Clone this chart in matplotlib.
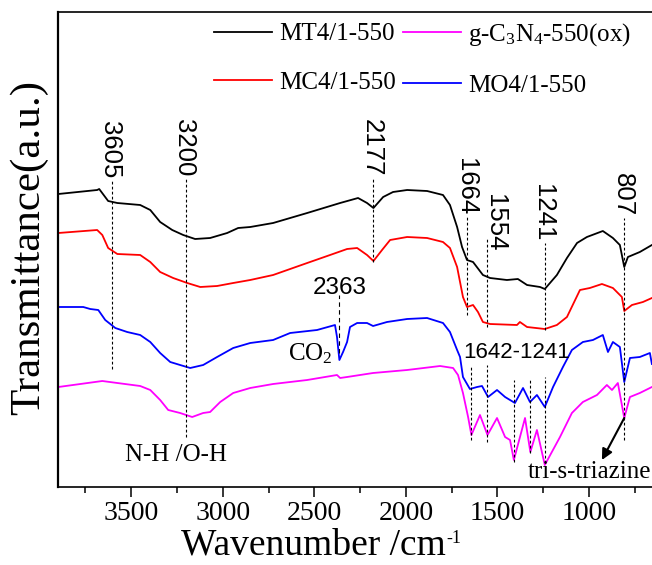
import matplotlib.pyplot as plt
from matplotlib.ticker import MultipleLocator

plt.rcParams['mathtext.fontset'] = 'custom'
plt.rcParams['mathtext.rm'] = 'Liberation Serif'
plt.rcParams['mathtext.it'] = 'Liberation Serif:italic'

SERIF = 'Liberation Serif'
SANS = 'Liberation Sans'

# FTIR spectra, wavenumber (cm-1) vs transmittance (a.u., stacked offsets)
mt_wn = [3898, 3686, 3675, 3626, 3576, 3451, 3396, 3342, 3276, 3216, 3151, 3069,
         2976, 2916, 2850, 2725, 2539, 2359, 2261, 2212, 2177, 2124, 2070, 1993,
         1884, 1797, 1759, 1720, 1693, 1666, 1633, 1579, 1540, 1448, 1388, 1338,
         1267, 1241, 1175, 1120, 1065, 1011, 924, 869, 831, 807, 787, 722, 656]
mt_t = [293, 297, 298, 286, 284, 282, 277, 265, 257, 252, 248, 249,
        254, 259, 260, 264, 274, 284, 289, 284, 279, 290, 295, 297,
        296, 292, 282, 260, 240, 227, 225, 212, 209, 207, 208, 202,
        200, 198, 212, 229, 244, 250, 256, 249, 242, 220, 230, 235, 242]

mc_wn = [3898, 3686, 3658, 3626, 3576, 3451, 3396, 3342, 3271, 3194, 3123, 3031,
         2943, 2850, 2725, 2539, 2414, 2321, 2266, 2212, 2177, 2130, 2086, 1993,
         1884, 1797, 1759, 1720, 1688, 1666, 1633, 1606, 1579, 1540, 1393, 1377,
         1338, 1241, 1175, 1120, 1049, 995, 929, 869, 820, 807, 765, 705, 656]
mc_t = [254, 257, 252, 239, 233, 232, 225, 215, 209, 204, 200, 201,
        204, 207, 212, 224, 232, 238, 239, 232, 226, 237, 247, 250,
        249, 245, 239, 220, 190, 180, 182, 175, 165, 163, 162, 165,
        160, 158, 162, 170, 197, 199, 203, 199, 190, 176, 182, 185, 189]

mo_wn = [3898, 3762, 3724, 3680, 3642, 3587, 3522, 3451, 3396, 3342, 3287, 3233,
         3178, 3107, 3031, 2943, 2850, 2725, 2632, 2485, 2387, 2376, 2363, 2343,
         2321, 2305, 2266, 2212, 2179, 2103, 1993, 1884, 1797, 1759, 1720, 1704,
         1688, 1650, 1611, 1584, 1551, 1502, 1458, 1404, 1360, 1322, 1284, 1241,
         1196, 1142, 1093, 1033, 978, 924, 896, 869, 831, 807, 776, 722, 667, 656]
mo_t = [180, 180, 178, 177, 167, 159, 155, 152, 145, 134, 125, 122,
        119, 122, 130, 139, 144, 147, 154, 157, 162, 150, 127, 135,
        145, 160, 164, 164, 161, 165, 168, 169, 164, 155, 137, 130,
        110, 98, 100, 101, 90, 97, 90, 84, 99, 85, 92, 80,
        100, 120, 137, 145, 147, 152, 135, 145, 140, 105, 129, 130, 134, 123]

gcn_wn = [3898, 3778, 3658, 3576, 3451, 3396, 3342, 3298, 3233, 3167, 3107, 3069,
          3014, 2943, 2850, 2725, 2539, 2376, 2359, 2321, 2179, 1993, 1813, 1742,
          1715, 1688, 1660, 1642, 1595, 1554, 1502, 1458, 1431, 1410, 1349, 1320,
          1284, 1241, 1158, 1093, 1033, 956, 902, 874, 842, 807, 776, 722, 656]
gcn_t = [100, 103, 106, 104, 101, 97, 87, 77, 74, 70, 74, 75,
         85, 94, 99, 103, 107, 112, 109, 110, 114, 117, 121, 119,
         112, 94, 70, 52, 72, 52, 69, 50, 47, 27, 69, 35,
         57, 22, 50, 74, 85, 92, 102, 97, 104, 69, 90, 94, 100]

series = [
    ('MT4/1-550', mt_wn, mt_t, 'black'),
    ('MC4/1-550', mc_wn, mc_t, 'red'),
    (r'g-C$_{3}$N$_{4}$-550(ox)', gcn_wn, gcn_t, 'magenta'),
    ('MO4/1-550', mo_wn, mo_t, 'blue'),
]

# labelled peaks: wavenumber, dashed line top / bottom (a.u.)
peak_wn = [3605, 3200, 2177, 1664, 1554, 1241, 807]
peak_top = [307, 309, 309, 270, 249, 244, 269]
peak_bot = [118, 50, 225, 172, 160, 157, 47]

# triazine band markers under "1642-1241"
band_wn = [1642, 1554, 1410, 1320, 1241]
band_top = [122, 122, 107, 109, 110]
band_bot = [47, 45, 25, 34, 24]

fig = plt.figure(figsize=(6.52, 5.65), dpi=100)
ax = fig.add_axes([58 / 652, 78 / 565, 595 / 652, 475 / 565])

for label, wn, t, color in series:
    ax.plot(wn, t, color=color, lw=1.3, label=label)

dash = (0, (2.5, 2))
for wn, top, bot in zip(peak_wn, peak_top, peak_bot):
    ax.plot([wn, wn], [bot, top], color='black', lw=0.8, ls=dash)
    if wn == 1554:
        # this label sits beside its line rather than above it
        ax.text(wn + 25, 235, str(wn), rotation=270, ha='left', va='bottom',
                fontsize=18.5, family=SANS)
    else:
        ax.text(wn + 10, top + 2, str(wn), rotation=270, ha='center', va='bottom',
                fontsize=18.5, family=SANS)

for wn, top, bot in zip(band_wn, band_top, band_bot):
    ax.plot([wn, wn], [bot, top], color='black', lw=0.8, ls=dash)

ax.plot([2363, 2363], [134, 192], color='black', lw=0.8, ls=(0, (4, 3)))
ax.text(2359, 199, '2363', ha='center', va='center', fontsize=17.5, family=SANS)
ax.text(2643, 127, 'CO$_{2}$', ha='left', va='baseline', fontsize=18, family=SERIF)
ax.text(1393, 135, '1642-1241', ha='center', va='center', fontsize=16, family=SANS)
ax.text(3254, 32, 'N-H /O-H', ha='center', va='center', fontsize=18, family=SERIF)
ax.text(1333, 4, 'tri-s-triazine', ha='left', va='bottom', fontsize=18, family=SERIF)
ax.annotate('', xy=(929, 27), xytext=(807, 69),
            arrowprops=dict(arrowstyle='-|>', color='black', lw=1.5,
                            mutation_scale=16, shrinkA=0, shrinkB=0))

ax.set_xlim(3900, 650)
ax.set_ylim(0, 475)
ax.xaxis.set_major_locator(MultipleLocator(500))
ax.xaxis.set_minor_locator(MultipleLocator(250))
ax.tick_params(axis='x', which='major', direction='out', length=7, width=1.1,
               pad=3, labelsize=20)
ax.tick_params(axis='x', which='minor', direction='out', length=4, width=1.1)
for lab in ax.get_xticklabels():
    lab.set_family(SERIF)
ax.set_yticks([])
ax.spines['right'].set_visible(False)
ax.spines['top'].set_linewidth(1.2)
ax.spines['bottom'].set_linewidth(1.2)
ax.spines['left'].set_linewidth(1.6)

ax.set_xlabel('Wavenumber /cm', fontsize=27, family=SERIF)
ax.xaxis.set_label_coords(0.43, -0.086)
ax.annotate('-1', xy=(1.0, 0.93), xycoords=ax.xaxis.label, ha='left', va='top',
            fontsize=13, family=SERIF)
ax.set_ylabel('Transmittance(a.u.)', fontsize=31, family=SERIF)
ax.yaxis.set_label_coords(-0.017, 0.504)

ax.legend(ncol=2, frameon=False, loc='upper left',
          bbox_to_anchor=(214 / 652, 1 - 21 / 565), bbox_transform=fig.transFigure,
          prop={'family': SERIF, 'size': 18}, handlelength=2.3, handletextpad=0.3,
          columnspacing=0.3, labelspacing=1.05, borderpad=0, borderaxespad=0)

fig.savefig('out.png', dpi=100)
